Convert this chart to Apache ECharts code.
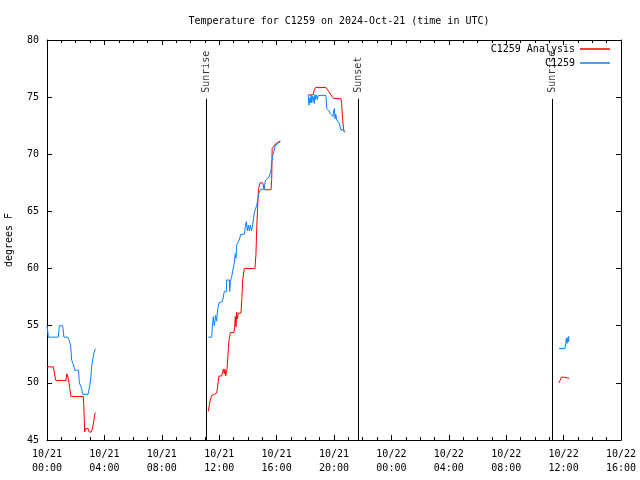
<!DOCTYPE html>
<html><head><meta charset="utf-8">
<script src="https://cdn.jsdelivr.net/npm/echarts@6/dist/echarts.min.js"></script>
<style>html,body{margin:0;padding:0;background:#fff}#c{width:640px;height:480px}</style>
</head><body><div id="c"></div>
<script>
// times are hours since 2024-10-21 00:00 UTC
var redA = [[0,51.4],[0.45,51.4],[0.55,50.6],[0.62,50.2],[1.32,50.2],[1.38,50.8],[1.42,50.8],[1.50,50.3],[1.58,49.6],[1.67,48.8],[2.53,48.8],[2.57,47.9],[2.62,45.7],[2.70,46.0],[2.76,46.1],[2.86,46.0],[2.95,45.7],[3.1,45.7],[3.23,46.4],[3.32,47.2],[3.37,47.4]];
var blueA = [[0,55.0],[0.1,54.0],[0.79,54.0],[0.86,55.0],[1.09,55.0],[1.18,54.0],[1.44,54.0],[1.56,53.7],[1.65,53.2],[1.72,52.0],[1.84,51.6],[1.93,51.1],[2.2,51.1],[2.25,50.0],[2.39,49.6],[2.49,49.0],[2.86,49.0],[2.95,49.55],[3.04,50.25],[3.11,51.4],[3.18,52.0],[3.27,52.6],[3.37,53.0]];
var redB = [[11.24,47.5],[11.29,47.9],[11.38,48.5],[11.48,48.9],[11.66,49.0],[11.82,49.1],[11.87,49.5],[11.94,50.25],[11.99,50.6],[12.17,50.6],[12.29,51.2],[12.36,50.8],[12.40,51.2],[12.45,50.6],[12.54,51.2],[12.59,52.0],[12.64,53.0],[12.68,53.7],[12.78,54.4],[13.03,54.4],[13.08,54.9],[13.12,55.8],[13.17,54.9],[13.22,56.2],[13.26,55.6],[13.33,56.1],[13.52,56.1],[13.57,57.2],[13.64,59.0],[13.75,60.0],[14.49,60.0],[14.56,61.2],[14.61,63.4],[14.68,65.4],[14.73,66.9],[14.84,67.5],[15.03,67.5],[15.14,66.9],[15.61,66.9],[15.66,67.8],[15.69,70.5],[15.80,70.7],[15.89,70.8],[16.0,71.0],[16.12,71.1],[16.26,71.15]];
var blueB = [[11.24,54.0],[11.48,54.0],[11.52,54.9],[11.59,55.8],[11.66,55.0],[11.75,55.9],[11.82,55.4],[11.89,56.4],[11.99,57.0],[12.22,57.1],[12.36,58.0],[12.50,58.0],[12.52,59.0],[12.71,59.0],[12.73,58.0],[12.78,58.9],[12.87,59.3],[12.96,59.9],[13.05,60.5],[13.12,61.3],[13.17,60.9],[13.22,62.1],[13.33,62.1],[13.40,62.5],[13.50,63.0],[13.75,63.0],[13.82,63.7],[13.89,64.1],[13.96,63.3],[14.03,63.8],[14.10,63.3],[14.17,63.8],[14.26,63.3],[14.33,63.8],[14.40,64.5],[14.49,65.1],[14.61,65.5],[14.68,66.0],[14.77,66.6],[14.86,66.9],[15.0,66.95],[15.14,66.95],[15.19,67.5],[15.24,67.75],[15.47,68.0],[15.61,68.6],[15.66,69.35],[15.72,69.8],[15.80,70.2],[15.89,70.7],[16.03,70.9],[16.12,71.0],[16.26,71.1]];
var redC = [[18.21,75.2],[18.56,75.2],[18.61,75.55],[18.72,75.85],[19.44,75.85],[19.60,75.55],[19.79,75.2],[19.95,74.9],[20.07,74.85],[20.49,74.85],[20.53,74.45],[20.60,73.05],[20.65,72.4],[20.70,72.0],[20.77,71.9]];
var blueC = [[18.21,75.2],[18.26,74.3],[18.31,74.9],[18.35,74.5],[18.40,75.2],[18.45,74.5],[18.52,75.1],[18.56,75.2],[18.63,74.45],[18.67,75.2],[18.72,74.8],[18.77,75.2],[18.84,75.2],[18.84,74.8],[18.91,75.15],[19.44,75.15],[19.49,74.0],[19.56,73.9],[19.65,73.8],[19.72,73.6],[19.79,73.45],[19.93,73.3],[19.98,73.8],[20.03,74.0],[20.07,73.1],[20.12,73.5],[20.19,73.0],[20.30,72.9],[20.37,72.7],[20.44,72.7],[20.49,72.1],[20.60,72.1],[20.65,72.2],[20.72,71.95]];
var redD = [[35.68,50.0],[35.75,50.2],[35.84,50.5],[36.0,50.5],[36.10,50.4],[36.40,50.4]];
var blueD = [[35.68,53.0],[36.10,53.0],[36.14,53.45],[36.19,53.9],[36.24,53.45],[36.31,54.0],[36.35,53.6],[36.36,54.1]];
var eventHours = [11.08, 21.67, 35.2];
var eventNames = ['Sunrise', 'Sunset', 'Sunrise'];
var eventTop = 74.85;
var seriesNames = ['C1259 Analysis', 'C1259'];
var titleText = 'Temperature for C1259 on 2024-Oct-21 (time in UTC)';

var FONT = 'DejaVu Sans Mono';
var RED = '#ff0000', BLUE = '#0a80ff';
function fmtX(v) {
  var day = v < 24 ? '10/21' : '10/22';
  var h = v % 24;
  return day + '\n' + (h < 10 ? '0' : '') + h + ':00';
}
var baseX = {type:'value', min:0, max:40, interval:4,
  axisLine:{show:true,onZero:false,lineStyle:{color:'#000',width:1}},
  axisTick:{show:true,inside:true,length:5,lineStyle:{color:'#000'}},
  minorTick:{show:true,splitNumber:4,length:3,lineStyle:{color:'#000'}},
  splitLine:{show:false}};
var baseY = {type:'value', min:45, max:80, interval:5,
  axisLine:{show:true,onZero:false,lineStyle:{color:'#000',width:1}},
  axisTick:{show:true,inside:true,length:5,lineStyle:{color:'#000'}},
  splitLine:{show:false}};
function seg(name, color, data) {
  return {type:'line', name:name, data:data, showSymbol:false, symbol:'none',
    lineStyle:{color:color,width:1}, itemStyle:{color:color}, xAxisIndex:0, yAxisIndex:0, z:3};
}
var series = [
  seg(seriesNames[0], RED, redA), seg(seriesNames[0], RED, redB), seg(seriesNames[0], RED, redC), seg(seriesNames[0], RED, redD),
  seg(seriesNames[1], BLUE, blueA), seg(seriesNames[1], BLUE, blueB), seg(seriesNames[1], BLUE, blueC), seg(seriesNames[1], BLUE, blueD)
];
series.push({
  type:'scatter', name:'events', symbolSize:0, z:4,
  data: eventHours.map(function(h,i){return [h, eventTop, eventNames[i]];}),
  label:{show:true, position:'top', distance:6, rotate:90, align:'left', verticalAlign:'middle',
    formatter:function(p){return p.value[2];}, fontFamily:FONT, fontSize:10, color:'#000'},
  markLine:{silent:true, symbol:'none', label:{show:false}, lineStyle:{color:'#000',width:1,type:'solid'},
    data: eventHours.map(function(h){return [{coord:[h,45]},{coord:[h,eventTop]}];})}
});
var legendBase = {orient:'vertical', right:30, align:'right', padding:0, itemWidth:30, itemHeight:1.5, icon:'rect',
  textStyle:{fontFamily:FONT, fontSize:10, color:'#000'}, selectedMode:false};
var chart = echarts.init(document.getElementById('c'), null, {renderer:'canvas'});
chart.setOption({
  animation:false,
  backgroundColor:'#fff',
  title:{text:titleText, left:334, top:11, textAlign:'center',
    textStyle:{fontFamily:FONT, fontSize:10, fontWeight:'normal', color:'#000'}},
  legend:[
    Object.assign({}, legendBase, {data:[seriesNames[0]], top:44}),
    Object.assign({}, legendBase, {data:[seriesNames[1]], top:58})
  ],
  grid:{left:47, right:19, top:40, bottom:40, containLabel:false, outerBoundsMode:'none'},
  xAxis:[
    Object.assign({}, baseX, {position:'bottom',
      axisLabel:{show:true, formatter:fmtX, fontFamily:FONT, fontSize:10, color:'#000', margin:7, lineHeight:14}}),
    Object.assign({}, baseX, {position:'top', axisLabel:{show:false}})
  ],
  yAxis:[
    Object.assign({}, baseY, {position:'left', name:'degrees F', nameLocation:'middle', nameGap:33, nameRotate:90,
      nameTextStyle:{fontFamily:FONT, fontSize:10, color:'#000'},
      axisLabel:{show:true, fontFamily:FONT, fontSize:10, color:'#000', margin:8}}),
    Object.assign({}, baseY, {position:'right', axisLabel:{show:false}})
  ],
  series:series
});
</script></body></html>
